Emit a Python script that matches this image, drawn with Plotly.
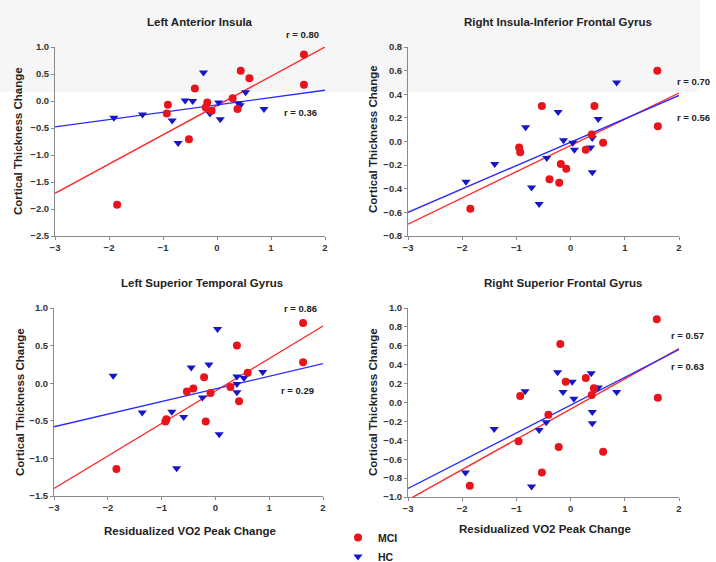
import plotly.graph_objects as go

W, H = 716, 562
FONT = "Liberation Sans, Arial, sans-serif"

# ---------------- data ----------------
PANEL_TITLES = ["Left Anterior Insula", "Right Insula-Inferior Frontal Gyrus",
                "Left Superior Temporal Gyrus", "Right Superior Frontal Gyrus"]
X_TITLE = "Residualized VO2 Peak Change"
Y_TITLE = "Cortical Thickness Change"
GROUPS = ["MCI", "HC"]
FIT_X = [-3, 2]

# Left Anterior Insula
LAI_MCI_X = [1.61, 1.61, 0.44, 0.60, -0.41, -0.91, -0.93, -0.18, -0.21, -0.10, 0.29, 0.38, -0.52, -1.85]
LAI_MCI_Y = [0.86, 0.30, 0.56, 0.42, 0.23, -0.07, -0.23, -0.03, -0.12, -0.18, 0.05, -0.15, -0.71, -1.92]
LAI_HC_X = [-1.91, -1.38, -0.83, -0.72, -0.59, -0.45, -0.25, -0.13, 0.03, 0.06, 0.40, 0.43, 0.53, 0.87]
LAI_HC_Y = [-0.31, -0.25, -0.36, -0.78, 0.01, 0.00, 0.53, -0.23, -0.03, -0.34, -0.04, -0.08, 0.16, -0.15]
LAI_MCI_FIT = [-1.71, 1.00]
LAI_HC_FIT = [-0.48, 0.20]
LAI_R = ["r = 0.80", "r = 0.36"]

# Right Insula-Inferior Frontal Gyrus
RIF_MCI_X = [1.60, 1.61, -0.53, 0.44, 0.39, 0.60, 0.28, -0.95, -0.93, -0.18, -0.08, -0.39, -0.21, -1.85]
RIF_MCI_Y = [0.60, 0.13, 0.30, 0.30, 0.06, -0.01, -0.07, -0.05, -0.09, -0.19, -0.23, -0.32, -0.35, -0.57]
RIF_HC_X = [-1.93, -1.40, -0.83, -0.72, -0.58, -0.44, -0.23, -0.13, 0.04, 0.07, 0.37, 0.40, 0.40, 0.51, 0.85]
RIF_HC_Y = [-0.34, -0.19, 0.12, -0.39, -0.53, -0.14, 0.25, 0.01, -0.01, -0.07, -0.05, 0.03, -0.26, 0.19, 0.50]
RIF_MCI_FIT = [-0.70, 0.41]
RIF_HC_FIT = [-0.60, 0.39]
RIF_R = ["r = 0.70", "r = 0.56"]

# Left Superior Temporal Gyrus
LST_MCI_X = [1.63, 1.63, 0.40, 0.60, 0.28, 0.44, -0.21, -0.41, -0.53, -0.09, -0.18, -0.91, -0.93, -1.84]
LST_MCI_Y = [0.80, 0.28, 0.50, 0.14, -0.05, -0.24, 0.08, -0.07, -0.11, -0.13, -0.51, -0.48, -0.51, -1.14]
LST_HC_X = [-1.90, -1.36, -0.81, -0.72, -0.59, -0.45, -0.24, -0.12, 0.04, 0.07, 0.40, 0.40, 0.40, 0.53, 0.88]
LST_HC_Y = [0.10, -0.39, -0.38, -1.13, -0.45, 0.21, -0.19, 0.25, 0.72, -0.68, 0.09, -0.01, -0.12, 0.07, 0.15]
LST_MCI_FIT = [-1.40, 0.76]
LST_HC_FIT = [-0.58, 0.26]
LST_R = ["r = 0.86", "r = 0.29"]

# Right Superior Frontal Gyrus
RSF_MCI_X = [1.59, 1.61, -0.19, -0.09, 0.28, 0.43, 0.39, 0.60, -0.93, -0.96, -0.41, -0.22, -0.53, -1.86]
RSF_MCI_Y = [0.88, 0.05, 0.62, 0.22, 0.26, 0.15, 0.08, -0.52, 0.07, -0.41, -0.13, -0.47, -0.74, -0.88]
RSF_HC_X = [-1.94, -1.41, -0.84, -0.72, -0.58, -0.45, -0.24, -0.14, 0.03, 0.06, 0.38, 0.40, 0.40, 0.51, 0.85]
RSF_HC_Y = [-0.74, -0.28, 0.12, -0.89, -0.29, -0.21, 0.32, 0.11, 0.22, 0.04, 0.31, -0.10, -0.22, 0.16, 0.11]
RSF_MCI_FIT = [-1.03, 0.57]
RSF_HC_FIT = [-0.91, 0.56]
RSF_R = ["r = 0.57", "r = 0.63"]

Y_RANGES = [[-2.5, 1.0], [-0.8, 0.8], [-1.5, 1.0], [-1.0, 1.0]]
Y_DTICKS = [0.5, 0.2, 0.5, 0.2]

# ---------------- layout helpers ----------------
def px(x):
    return x / W

def py(y):
    return 1 - y / H

RED = "#e8141c"
BLUE = "#1616c8"
RED_LINE = "#ff2a2a"
BLUE_LINE = "#2a2aff"

panels = [
    dict(mx=LAI_MCI_X, my=LAI_MCI_Y, hx=LAI_HC_X, hy=LAI_HC_Y, mf=LAI_MCI_FIT, hf=LAI_HC_FIT, r=LAI_R,
         xd=(55, 325), yd=(47, 236), title=(200, 22), ytitle=(18, 141), xtitle=None,
         rpos=[(302, 35), (300, 112)]),
    dict(mx=RIF_MCI_X, my=RIF_MCI_Y, hx=RIF_HC_X, hy=RIF_HC_Y, mf=RIF_MCI_FIT, hf=RIF_HC_FIT, r=RIF_R,
         xd=(408, 679), yd=(47, 236), title=(558, 22), ytitle=(373, 139), xtitle=None,
         rpos=[(693, 82), (693, 117)]),
    dict(mx=LST_MCI_X, my=LST_MCI_Y, hx=LST_HC_X, hy=LST_HC_Y, mf=LST_MCI_FIT, hf=LST_HC_FIT, r=LST_R,
         xd=(54, 323), yd=(308, 496), title=(202, 283), ytitle=(20, 402), xtitle=(190, 531),
         rpos=[(300, 308), (297, 390)]),
    dict(mx=RSF_MCI_X, my=RSF_MCI_Y, hx=RSF_HC_X, hy=RSF_HC_Y, mf=RSF_MCI_FIT, hf=RSF_HC_FIT, r=RSF_R,
         xd=(408, 679), yd=(308, 497), title=(563, 283), ytitle=(373, 402), xtitle=(545, 529),
         rpos=[(687, 335), (687, 366)]),
]

fig = go.Figure()
annotations = []
layout_axes = {}

# faint watermark band of the scanned source
shapes = [dict(type="rect", xref="paper", yref="paper", x0=0, x1=px(700), y0=py(92), y1=1,
               fillcolor="#f6f6f6", line=dict(width=0), layer="below")]

for i, p in enumerate(panels):
    n = "" if i == 0 else str(i + 1)
    xa, ya = "x" + n, "y" + n
    first = (i == 0)
    fig.add_trace(go.Scatter(x=FIT_X, y=p["mf"], mode="lines", xaxis=xa, yaxis=ya,
                             line=dict(color=RED_LINE, width=1.4), showlegend=False, hoverinfo="skip"))
    fig.add_trace(go.Scatter(x=FIT_X, y=p["hf"], mode="lines", xaxis=xa, yaxis=ya,
                             line=dict(color=BLUE_LINE, width=1.4), showlegend=False, hoverinfo="skip"))
    fig.add_trace(go.Scatter(x=p["hx"], y=p["hy"], mode="markers", xaxis=xa, yaxis=ya, name=GROUPS[1],
                             legendrank=2, showlegend=first,
                             marker=dict(symbol="triangle-down", size=8, color=BLUE)))
    fig.add_trace(go.Scatter(x=p["mx"], y=p["my"], mode="markers", xaxis=xa, yaxis=ya, name=GROUPS[0],
                             legendrank=1, showlegend=first,
                             marker=dict(symbol="circle", size=8, color=RED)))

    tickfont = dict(family=FONT, size=9.5, color="#333333", weight="bold")
    layout_axes["xaxis" + n] = dict(domain=[px(p["xd"][0]), px(p["xd"][1])], range=[-3, 2],
                                    tick0=-3, dtick=1, anchor=ya, showline=True, linecolor="#8a8a8a",
                                    linewidth=1, ticks="outside", ticklen=3, tickcolor="#8a8a8a",
                                    showgrid=False, zeroline=False, tickfont=tickfont, fixedrange=True,
                                    automargin=False)
    layout_axes["yaxis" + n] = dict(domain=[py(p["yd"][1]), py(p["yd"][0])], range=Y_RANGES[i],
                                    tick0=Y_RANGES[i][0], dtick=Y_DTICKS[i], tickformat=".1f", anchor=xa,
                                    showline=True, linecolor="#8a8a8a", linewidth=1, ticks="outside",
                                    ticklen=3, tickcolor="#8a8a8a", showgrid=False, zeroline=False,
                                    tickfont=tickfont, fixedrange=True, automargin=False)

    annotations.append(dict(text=PANEL_TITLES[i], x=px(p["title"][0]), y=py(p["title"][1]),
                            xref="paper", yref="paper", showarrow=False, xanchor="center", yanchor="middle",
                            font=dict(family=FONT, size=11.5, color="#222222", weight="bold")))
    annotations.append(dict(text=Y_TITLE, x=px(p["ytitle"][0]), y=py(p["ytitle"][1]), textangle=-90,
                            xref="paper", yref="paper", showarrow=False, xanchor="center", yanchor="middle",
                            font=dict(family=FONT, size=11.5, color="#222222", weight="bold")))
    if p["xtitle"]:
        annotations.append(dict(text=X_TITLE, x=px(p["xtitle"][0]), y=py(p["xtitle"][1]),
                                xref="paper", yref="paper", showarrow=False, xanchor="center",
                                yanchor="middle",
                                font=dict(family=FONT, size=11.5, color="#222222", weight="bold")))
    for txt, (ax_, ay_) in zip(p["r"], p["rpos"]):
        annotations.append(dict(text=txt, x=px(ax_), y=py(ay_), xref="paper", yref="paper",
                                showarrow=False, xanchor="center", yanchor="middle",
                                font=dict(family=FONT, size=9.5, color="#222222", weight="bold")))

fig.update_layout(
    width=W, height=H, margin=dict(l=0, r=0, t=0, b=0, autoexpand=False),
    paper_bgcolor="white", plot_bgcolor="rgba(0,0,0,0)",
    showlegend=True,
    legend=dict(x=px(338), y=py(523), xanchor="left", yanchor="top", bgcolor="rgba(0,0,0,0)",
                font=dict(family=FONT, size=10.5, color="#222222", weight="bold"),
                tracegroupgap=0, itemwidth=30, borderwidth=0),
    annotations=annotations, shapes=shapes,
    **layout_axes,
)

fig.write_html("out.html")
